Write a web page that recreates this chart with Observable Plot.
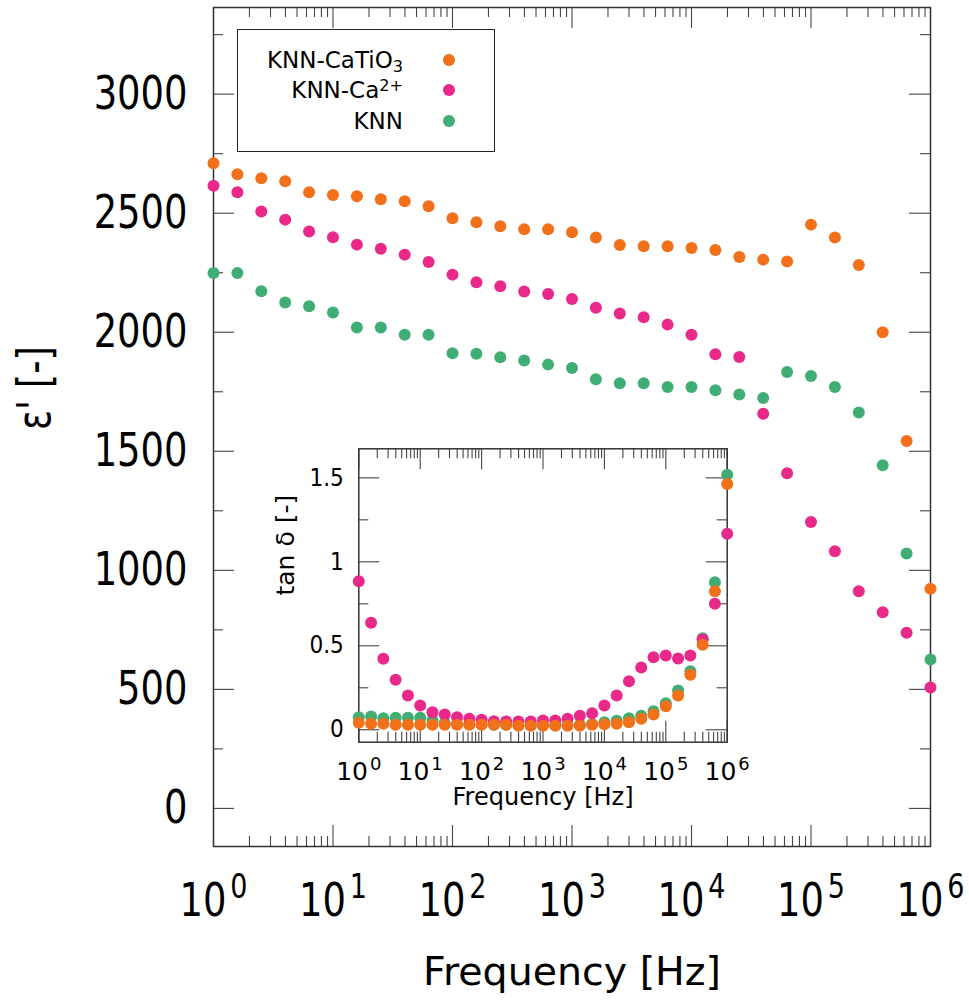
<!DOCTYPE html>
<html>
<head>
<meta charset="utf-8">
<script src="https://cdn.jsdelivr.net/npm/d3@7"></script>
<script src="https://cdn.jsdelivr.net/npm/@observablehq/plot@0.6"></script>
<style>
  html, body { margin: 0; padding: 0; background: #fff; }
  #wrap { position: relative; width: 969px; height: 1008px; overflow: hidden; }
  #wrap > svg { position: absolute; }
  #legend { position: absolute; left: 237px; top: 29px; width: 256px; height: 121px;
            border: 1px solid #222; background: #fff; box-sizing: content-box;
            font-family: "DejaVu Sans", sans-serif; font-stretch: normal; }
  #legend .row { position: absolute; left: 0; width: 256px; height: 24px; }
  #legend .lab { position: absolute; right: 91px; top: 0; font-size: 23px; line-height: 24px; white-space: nowrap; color: #000; }
  #legend .dot { position: absolute; left: 205px; top: 6px; width: 12px; height: 12px; border-radius: 50%; }
  #legend sub { font-size: 0.7em; line-height: 0; vertical-align: -0.22em; }
  #legend sup { font-size: 0.7em; line-height: 0; vertical-align: 0.45em; }
</style>
</head>
<body>
<div id="wrap"></div>
<script>
// ---------------- data ----------------
const freq = [1, 1.585, 2.512, 3.981, 6.31, 10, 15.85, 25.12, 39.81, 63.1,
  100, 158.5, 251.2, 398.1, 631, 1000, 1585, 2512, 3981, 6310,
  10000, 15850, 25120, 39810, 63100, 100000, 158500, 251200, 398100, 631000, 1000000];

const series = ["KNN-CaTiO3", "KNN-Ca2+", "KNN"];
const colors = ["#f27019", "#e8298a", "#40ae74"];

// epsilon' (main chart)
const epsCaTiO3 = [2710, 2664, 2647, 2634, 2588, 2576, 2571, 2559, 2550, 2529,
  2479, 2462, 2445, 2433, 2433, 2420, 2398, 2366, 2361, 2361,
  2354, 2345, 2316, 2305, 2297, 2452, 2398, 2282, 2000, 1543, 923];
const epsCa = [2615, 2588, 2507, 2473, 2423, 2399, 2368, 2351, 2326, 2295,
  2242, 2210, 2193, 2171, 2161, 2140, 2103, 2079, 2063, 2032,
  1989, 1908, 1896, 1658, 1408, 1203, 1080, 912, 824, 738, 508];
const epsKNN = [2249, 2249, 2172, 2125, 2109, 2083, 2020, 2020, 1989, 1989,
  1912, 1910, 1895, 1881, 1864, 1850, 1803, 1786, 1786, 1770,
  1770, 1756, 1739, 1724, 1833, 1816, 1770, 1663, 1441, 1071, 625];

// tan delta (inset)
const tanCaTiO3 = [0.042, 0.036, 0.036, 0.030, 0.030, 0.030, 0.030, 0.030, 0.030, 0.030,
  0.030, 0.030, 0.030, 0.024, 0.024, 0.024, 0.024, 0.024, 0.024, 0.030,
  0.033, 0.036, 0.045, 0.065, 0.091, 0.140, 0.204, 0.327, 0.506, 0.825, 1.464];
const tanCa = [0.885, 0.637, 0.423, 0.298, 0.204, 0.145, 0.105, 0.091, 0.075, 0.065,
  0.060, 0.051, 0.049, 0.049, 0.049, 0.055, 0.055, 0.065, 0.083, 0.099,
  0.145, 0.204, 0.289, 0.371, 0.432, 0.442, 0.424, 0.442, 0.537, 0.750, 1.167];
const tanKNN = [0.075, 0.079, 0.069, 0.071, 0.071, 0.071, 0.055, 0.040, 0.035, 0.033,
  0.032, 0.030, 0.030, 0.028, 0.027, 0.027, 0.027, 0.028, 0.030, 0.035,
  0.045, 0.054, 0.069, 0.083, 0.111, 0.158, 0.234, 0.349, 0.545, 0.879, 1.518];

// tick values
const decades = [1, 10, 100, 1000, 10000, 100000, 1000000];
const epsTicks = [0, 500, 1000, 1500, 2000, 2500, 3000];
const epsMinor = [250, 750, 1250, 1750, 2250, 2750, 3250];
const tanTicks = [0, 0.5, 1, 1.5];
const tanMinor = [0.25, 0.75, 1.25];
const tanLabels = ["0", "0.5", "1", "1.5"];

// ---------------- helpers ----------------
const minorDecades = decades.slice(0, -1).flatMap(m => [2, 3, 4, 5, 6, 7, 8, 9].map(k => k * m));
const FONT_C = '"DejaVu Sans Condensed", "DejaVu Sans", sans-serif';
const FONT_R = '"DejaVu Sans", sans-serif';
const drawOrder = [2, 1, 0]; // KNN first, then Ca2+, CaTiO3 on top
function rowsOf(valueSets) {
  return drawOrder.flatMap(i => freq.map((f, j) => ({f, v: valueSets[i][j], s: series[i]})));
}
const epsRows = rowsOf([epsCaTiO3, epsCa, epsKNN]);
const tanRows = rowsOf([tanCaTiO3, tanCa, tanKNN]);

function supify(svg, supSize, shift, gap) {
  svg.querySelectorAll("text").forEach(t => {
    const m = /^10\^(\d+)$/.exec(t.textContent);
    if (!m) return;
    const target = t.querySelector("tspan") || t;
    target.textContent = "10";
    const ts = document.createElementNS("http://www.w3.org/2000/svg", "tspan");
    ts.setAttribute("dy", -shift);
    ts.setAttribute("dx", gap);
    ts.setAttribute("font-size", supSize);
    ts.textContent = m[1];
    target.appendChild(ts);
  });
}
// vertical stretch of a text about its own anchor point
function stretch(texts, s) {
  texts.forEach(t => {
    const xa = t.getAttribute("x"), ya = t.getAttribute("y");
    const px = xa && !/em/.test(xa) ? parseFloat(xa) || 0 : 0;
    const py = ya && !/em/.test(ya) ? parseFloat(ya) || 0 : 0;
    const tr = t.getAttribute("transform") || "";
    t.setAttribute("transform", `${tr} translate(${px},${py}) scale(1,${s}) translate(${-px},${-py})`);
  });
}
function regular(texts) {
  texts.forEach(t => { t.style.fontFamily = FONT_R; t.style.fontStretch = "normal"; });
}
function textsMatching(svg, re) {
  return [...svg.querySelectorAll("text")].filter(t => re.test(t.textContent));
}

function ticksFor(fw, fh, xMajor, xMinor, yMajor, yMinor, big, small) {
  const st = {stroke: "#444", strokeWidth: 1.1};
  return [
    Plot.tickX(xMajor, {x: d => d, insetTop: fh - big, ...st}),
    Plot.tickX(xMajor, {x: d => d, insetBottom: fh - big, ...st}),
    Plot.tickX(xMinor, {x: d => d, insetTop: fh - small, ...st}),
    Plot.tickX(xMinor, {x: d => d, insetBottom: fh - small, ...st}),
    Plot.tickY(yMajor, {y: d => d, insetRight: fw - big, ...st}),
    Plot.tickY(yMajor, {y: d => d, insetLeft: fw - big, ...st}),
    Plot.tickY(yMinor, {y: d => d, insetRight: fw - small, ...st}),
    Plot.tickY(yMinor, {y: d => d, insetLeft: fw - small, ...st})
  ];
}

const wrap = document.getElementById("wrap");

// ---------------- main chart ----------------
{
  const W = 969, H = 1008, mL = 213, mR = 39, mT = 7, mB = 162;
  const fw = W - mL - mR, fh = H - mT - mB;
  const chart = Plot.plot({
    width: W, height: H,
    marginLeft: mL, marginRight: mR, marginTop: mT, marginBottom: mB,
    style: {background: "transparent", fontFamily: FONT_C, fontStretch: "condensed", color: "#000", overflow: "visible"},
    x: {type: "log", domain: [1, 1e6]},
    y: {domain: [-160, 3364]},
    color: {domain: series, range: colors},
    marks: [
      ...ticksFor(fw, fh, decades, minorDecades, epsTicks, epsMinor, 21, 10),
      Plot.frame({stroke: "#333", strokeWidth: 1.5}),
      Plot.axisX(decades, {tickSize: 0, tickPadding: 37, fontSize: 41, label: null,
        tickFormat: d => "10^" + Math.round(Math.log10(d))}),
      Plot.axisY(epsTicks, {tickSize: 0, tickPadding: 26, fontSize: 41, label: null,
        tickFormat: d => String(d)}),
      Plot.dot(epsRows, {x: "f", y: "v", fill: "s", r: 6, stroke: null}),
      Plot.text(["Frequency [Hz]"], {frameAnchor: "bottom", dy: 138, fontSize: 39.5, fill: "#000"}),
      Plot.text(["ε' [-]"], {frameAnchor: "left", dx: -178, dy: 3, rotate: -90, fontSize: 41, fill: "#000"})
    ]
  });
  chart.style.left = "0px"; chart.style.top = "0px";
  wrap.appendChild(chart);
  supify(chart, 30, 16, 4);
  stretch([...chart.querySelectorAll('g[aria-label="x-axis tick label"] text'),
           ...chart.querySelectorAll('g[aria-label="y-axis tick label"] text'),
           ...textsMatching(chart, /^ε/)], 1.13);
  regular(textsMatching(chart, /^Frequency/));
}

// ---------------- legend (HTML, over the main frame) ----------------
{
  const legend = document.createElement("div");
  legend.id = "legend";
  const labels = ["KNN-CaTiO<sub>3</sub>", "KNN-Ca<sup>2+</sup>", "KNN"];
  const dotY = [60, 90, 121];
  series.forEach((s, i) => {
    const row = document.createElement("div");
    row.className = "row";
    row.style.top = (dotY[i] - 12 - 30) + "px";
    row.innerHTML = `<span class="lab">${labels[i]}</span><span class="dot" style="background:${colors[i]}"></span>`;
    legend.appendChild(row);
  });
  wrap.appendChild(legend);
}

// ---------------- inset chart ----------------
{
  const left = 250, top = 430, W = 510, H = 400;
  const mL = 358.3 - left, mT = 448.3 - top, mR = left + W - 726.7, mB = top + H - 741.7;
  const fw = W - mL - mR, fh = H - mT - mB;
  const chart = Plot.plot({
    width: W, height: H,
    marginLeft: mL, marginRight: mR, marginTop: mT, marginBottom: mB,
    style: {background: "transparent", fontFamily: FONT_C, fontStretch: "condensed", color: "#000", overflow: "visible"},
    x: {type: "log", domain: [1, 1e6]},
    y: {domain: [-0.074, 1.673]},
    color: {domain: series, range: colors},
    marks: [
      Plot.frame({fill: "#fff", stroke: null}),
      ...ticksFor(fw, fh, decades, minorDecades, tanTicks, tanMinor, 21, 10),
      Plot.frame({stroke: "#333", strokeWidth: 1.5}),
      Plot.axisX(decades, {tickSize: 0, tickPadding: 20, fontSize: 25, label: null,
        tickFormat: d => "10^" + Math.round(Math.log10(d))}),
      Plot.axisY(tanTicks, {tickSize: 0, tickPadding: 15, fontSize: 24, label: null,
        tickFormat: (d, i) => tanLabels[i]}),
      Plot.dot(tanRows, {x: "f", y: "v", fill: "s", r: 6, stroke: null}),
      Plot.text(["Frequency [Hz]"], {frameAnchor: "bottom", dy: 63, fontSize: 24, fill: "#000"}),
      Plot.text(["tan δ [-]"], {frameAnchor: "left", dx: -73, rotate: -90, fontSize: 25, fill: "#000"})
    ]
  });
  chart.style.left = left + "px"; chart.style.top = top + "px";
  wrap.appendChild(chart);
  supify(chart, 18, 10, 2);
  regular([...chart.querySelectorAll('g[aria-label="x-axis tick label"] text'),
           ...textsMatching(chart, /^(Frequency|tan)/)]);
}
</script>
</body>
</html>
